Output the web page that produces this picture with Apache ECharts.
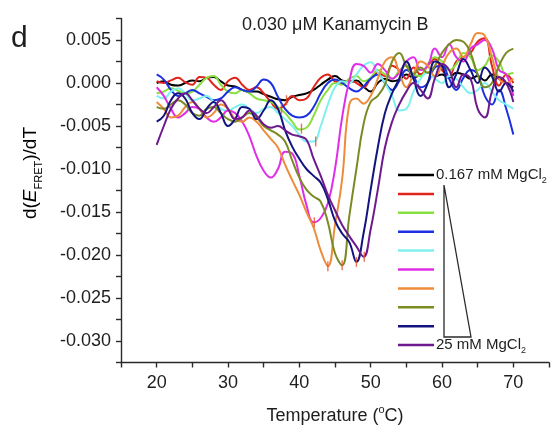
<!DOCTYPE html>
<html><head><meta charset="utf-8">
<script src="https://cdn.jsdelivr.net/npm/echarts@6/dist/echarts.min.js"></script>
<style>html,body{margin:0;padding:0;background:#fff}#c{width:552px;height:433px}</style>
</head><body><div id="c"></div>
<script>
const temperatures = [20,21,22,23,24,25,26,27,28,29,30,31,32,33,34,35,36,37,38,39,40,41,42,43,44,45,46,47,48,49,50,51,52,53,54,55,56,57,58,59,60,61,62,63,64,65,66,67,68,69,70];
const seriesNames = ['0.167 mM MgCl2','MgCl2 level 2','MgCl2 level 3','MgCl2 level 4','MgCl2 level 5','MgCl2 level 6','MgCl2 level 7','MgCl2 level 8','MgCl2 level 9','25 mM MgCl2'];
const blackVals = [0.0000,0.0002,-0.0002,-0.0003,0.0000,0.0003,0.0002,0.0006,0.0007,0.0002,
 -0.0003,-0.0004,-0.0008,-0.0010,-0.0010,-0.0013,-0.0016,-0.0019,-0.0020,-0.0016,
 -0.0014,-0.0012,-0.0008,-0.0002,0.0004,0.0008,0.0003,0.0001,0.0003,-0.0004,
 -0.0010,0.0000,0.0005,0.0002,0.0004,0.0010,0.0006,0.0010,0.0012,0.0008,
 0.0010,0.0006,0.0012,0.0010,0.0005,0.0008,0.0003,0.0010,0.0005,0.0000,-0.0005];
const redVals = [0.0002,0.0000,0.0003,0.0006,0.0001,-0.0002,0.0007,0.0006,-0.0002,-0.0008,
 0.0002,0.0006,-0.0002,-0.0008,-0.0005,-0.0012,-0.0022,-0.0030,-0.0025,-0.0015,
 -0.0020,-0.0018,-0.0005,0.0006,0.0010,0.0002,0.0000,0.0003,0.0000,-0.0005,
 0.0005,0.0012,0.0008,0.0020,0.0015,0.0005,0.0018,0.0010,0.0020,0.0028,
 0.0015,0.0008,0.0025,0.0030,0.0035,0.0048,0.0052,0.0020,-0.0003,0.0010,0.0000];
const greenVals = [-0.0012,-0.0010,-0.0006,-0.0009,-0.0012,-0.0010,-0.0002,0.0006,0.0008,-0.0002,
 -0.0010,-0.0012,-0.0008,-0.0012,-0.0018,-0.0020,-0.0022,-0.0028,-0.0035,-0.0045,
 -0.0054,-0.0052,-0.0038,-0.0020,-0.0008,0.0000,-0.0002,0.0005,0.0008,0.0002,
 0.0006,0.0015,0.0010,0.0005,0.0014,0.0020,0.0010,0.0008,0.0022,0.0030,
 0.0025,0.0015,0.0022,0.0035,0.0030,0.0015,0.0020,0.0032,0.0025,0.0010,0.0012];
const blueVals = [0.0010,0.0004,-0.0008,-0.0015,-0.0012,-0.0008,-0.0012,-0.0016,-0.0020,-0.0018,
 -0.0010,-0.0005,-0.0008,-0.0010,-0.0004,0.0004,0.0000,-0.0016,-0.0030,-0.0038,
 -0.0040,-0.0038,-0.0028,-0.0012,0.0000,0.0004,0.0000,-0.0006,-0.0010,-0.0004,
 0.0005,0.0010,0.0000,-0.0008,0.0002,0.0015,0.0008,-0.0005,0.0000,0.0018,
 0.0020,0.0005,-0.0008,0.0006,0.0015,0.0010,-0.0015,-0.0025,-0.0008,-0.0030,-0.0060];
const cyanVals = [-0.0015,-0.0018,-0.0010,-0.0006,-0.0012,-0.0020,-0.0018,-0.0015,-0.0022,-0.0030,
 -0.0032,-0.0028,-0.0025,-0.0030,-0.0035,-0.0030,-0.0028,-0.0035,-0.0042,-0.0050,
 -0.0060,-0.0068,-0.0068,-0.0050,-0.0025,-0.0005,0.0002,0.0000,0.0010,0.0020,
 0.0024,0.0012,0.0000,-0.0015,-0.0032,-0.0030,-0.0010,0.0005,0.0012,0.0005,
 0.0000,0.0008,0.0005,-0.0005,-0.0012,-0.0008,0.0000,-0.0010,-0.0020,-0.0025,-0.0030];
const magentaVals = [-0.0005,-0.0015,-0.0030,-0.0040,-0.0035,-0.0028,-0.0030,-0.0040,-0.0045,-0.0040,
 -0.0032,-0.0035,-0.0045,-0.0062,-0.0085,-0.0102,-0.0110,-0.0100,-0.0080,-0.0082,
 -0.0108,-0.0142,-0.0162,-0.0157,-0.0140,-0.0100,-0.0040,0.0002,0.0022,0.0020,
 0.0012,0.0022,0.0015,0.0005,0.0012,0.0025,0.0030,0.0015,0.0020,0.0040,
 0.0030,0.0045,0.0030,0.0025,0.0040,0.0045,0.0050,0.0040,0.0015,0.0010,-0.0015];
const orangeVals = [-0.0022,-0.0030,-0.0040,-0.0038,-0.0028,-0.0022,-0.0030,-0.0040,-0.0035,-0.0025,
 -0.0030,-0.0042,-0.0045,-0.0040,-0.0045,-0.0055,-0.0065,-0.0075,-0.0095,-0.0113,
 -0.0130,-0.0150,-0.0168,-0.0195,-0.0213,-0.0165,-0.0112,-0.0025,-0.0018,-0.0024,
 -0.0015,0.0005,0.0025,0.0030,0.0012,-0.0005,0.0010,0.0025,0.0020,0.0008,
 0.0020,0.0035,0.0040,0.0030,0.0045,0.0058,0.0055,0.0030,0.0005,0.0000,0.0005];
const oliveVals = [-0.0028,-0.0030,-0.0025,-0.0020,-0.0025,-0.0035,-0.0038,-0.0030,-0.0028,-0.0035,
 -0.0042,-0.0045,-0.0040,-0.0035,-0.0040,-0.0050,-0.0055,-0.0060,-0.0068,-0.0090,
 -0.0110,-0.0124,-0.0132,-0.0138,-0.0162,-0.0198,-0.0212,-0.0155,-0.0100,-0.0048,
 -0.0022,-0.0015,-0.0002,0.0025,0.0035,0.0020,0.0010,0.0018,0.0012,0.0020,
 0.0035,0.0045,0.0050,0.0048,0.0035,0.0010,-0.0005,0.0000,0.0020,0.0035,0.0040];
const navyVals = [-0.0045,-0.0038,-0.0020,-0.0012,-0.0018,-0.0035,-0.0042,-0.0030,-0.0022,-0.0035,
 -0.0050,-0.0042,-0.0028,-0.0030,-0.0042,-0.0032,-0.0020,-0.0030,-0.0055,-0.0074,
 -0.0088,-0.0100,-0.0108,-0.0116,-0.0135,-0.0160,-0.0175,-0.0185,-0.0208,-0.0175,
 -0.0124,-0.0075,-0.0035,-0.0012,0.0005,0.0025,0.0005,-0.0015,0.0000,0.0025,
 0.0020,-0.0005,0.0010,0.0028,0.0015,0.0000,0.0018,0.0008,-0.0010,0.0000,-0.0010];
const purpleVals = [-0.0072,-0.0050,-0.0030,-0.0018,-0.0012,-0.0020,-0.0030,-0.0035,-0.0028,-0.0020,
 -0.0030,-0.0042,-0.0040,-0.0032,-0.0038,-0.0048,-0.0052,-0.0050,-0.0055,-0.0060,
 -0.0062,-0.0066,-0.0088,-0.0108,-0.0130,-0.0148,-0.0165,-0.0178,-0.0190,-0.0202,
 -0.0170,-0.0124,-0.0075,-0.0045,-0.0025,-0.0010,0.0000,-0.0008,-0.0018,0.0005,
 0.0022,0.0015,-0.0005,0.0010,0.0005,-0.0030,-0.0040,-0.0010,0.0007,0.0000,-0.0022];
// small vertical marks at the transition minima: [temperature, value]
const minimaMarks = [[37.5,-0.0030],[38.2,-0.0020],[40.3,-0.0053],[42.3,-0.0068],[42.1,-0.0162],[44.0,-0.0213],[46.0,-0.0212],[48.0,-0.0208],[49.1,-0.0202]];
const xTickLabels = [20,30,40,50,60,70];
const yTickLabels = ['0.005','0.000','-0.005','-0.010','-0.015','-0.020','-0.025','-0.030'];

const allVals = [blackVals,redVals,greenVals,blueVals,cyanVals,magentaVals,orangeVals,oliveVals,navyVals,purpleVals];
const colors = ['#000000','#e0241c','#88e040','#1b30e0','#7ff0f0','#e02ee8','#ee8c3a','#7c8a22','#14147e','#6e1a8e'];
const FONT = '"Liberation Sans", Arial, Helvetica, sans-serif';
const TXT = '#1e1e1e';

const chart = echarts.init(document.getElementById('c'), null, {renderer:'canvas'});
const series = allVals.map((vals,i)=>({
  name: seriesNames[i], type:'line', showSymbol:false, smooth:0.45,
  data: temperatures.map((t,k)=>[t, vals[k]]),
  lineStyle:{width:2, color:colors[i]}, itemStyle:{color:colors[i]}, z: 2+i
}));
series.push({type:'scatter', data: minimaMarks, symbol:'rect', symbolSize:[1.4,10],
  itemStyle:{color:'#e4502a'}, z:20, silent:true});

const legendX = 398, legendY0 = 175, legendDy = 18.9;
const graphics = [];
colors.forEach((c,i)=>{
  graphics.push({type:'line', shape:{x1:legendX,y1:legendY0+i*legendDy,x2:legendX+36,y2:legendY0+i*legendDy},
    style:{stroke:c, lineWidth:2.5}});
});
const richMg = {n:{fontSize:15,fontFamily:FONT,color:TXT,lineHeight:20}, s:{fontSize:9,fontFamily:FONT,color:TXT,verticalAlign:'bottom',lineHeight:20}};
graphics.push({type:'text', x:436, y:legendY0, style:{text:'{n|0.167 mM MgCl}{s|2}', rich:richMg, verticalAlign:'middle', align:'left', fill:TXT}});
graphics.push({type:'text', x:436, y:legendY0+9*legendDy, style:{text:'{n|25 mM MgCl}{s|2}', rich:richMg, verticalAlign:'middle', align:'left', fill:TXT}});
graphics.push({type:'polygon', shape:{points:[[444,185],[444,337],[471,337]]}, style:{fill:'none', stroke:'#2a2a2a', lineWidth:1.3}});
// panel letter
graphics.push({type:'text', x:11, y:39, style:{text:'d', font:'30px '+FONT, fill:TXT, verticalAlign:'middle'}});
// y axis title
graphics.push({type:'text', x:31, y:173, rotation:Math.PI/2,
  style:{text:'{a|d(}{i|E}{s|FRET}{a|)/dT}', align:'center', verticalAlign:'middle',
    rich:{a:{fontSize:19,fontFamily:FONT,color:TXT,lineHeight:26},
          i:{fontSize:19,fontFamily:FONT,fontStyle:'italic',color:TXT,lineHeight:26},
          s:{fontSize:11,fontFamily:FONT,color:TXT,verticalAlign:'bottom',lineHeight:26}}}});

const axisLineStyle = {color:'#2a2a2a', width:1.4};
chart.setOption({
  animation:false,
  backgroundColor:'#fff',
  title:{text:'0.030 \u03bcM Kanamycin B', left:237, top:11,
    textStyle:{fontSize:18, fontWeight:'normal', fontFamily:FONT, color:TXT}},
  grid:{left:121, right:1, top:18.5, bottom:70.5, containLabel:false},
  xAxis:{type:'value', min:15, max:75, interval:5,
    axisLine:{show:true, lineStyle:axisLineStyle, onZero:false},
    axisTick:{show:true, inside:false, length:5, lineStyle:axisLineStyle},
    splitLine:{show:false},
    axisLabel:{fontSize:18, fontFamily:FONT, color:TXT, margin:12,
      formatter:v=> xTickLabels.includes(Math.round(v)) && Math.abs(v-Math.round(v))<1e-6 ? String(Math.round(v)) : ''},
    name:'{t|Temperature (}{o|o}{t|C)}', nameLocation:'middle', nameGap:42,
    nameTextStyle:{rich:{t:{fontSize:18,fontFamily:FONT,color:TXT,lineHeight:24},
                         o:{fontSize:11,fontFamily:FONT,color:TXT,verticalAlign:'top',lineHeight:24}}}
  },
  yAxis:{type:'value', min:-0.0325, max:0.0075, interval:0.0025,
    axisLine:{show:true, lineStyle:axisLineStyle, onZero:false},
    axisTick:{show:true, inside:false, length:5, lineStyle:axisLineStyle},
    splitLine:{show:false},
    axisLabel:{fontSize:18, fontFamily:FONT, color:TXT, margin:10,
      formatter:v=>{ let r = Math.abs(v)<1e-9 ? 0 : v; const s = r.toFixed(3);
        return yTickLabels.includes(s) && Math.abs(r/0.005 - Math.round(r/0.005))<1e-6 ? s : ''; }}
  },
  series: series,
  graphic: graphics
});
</script></body></html>
